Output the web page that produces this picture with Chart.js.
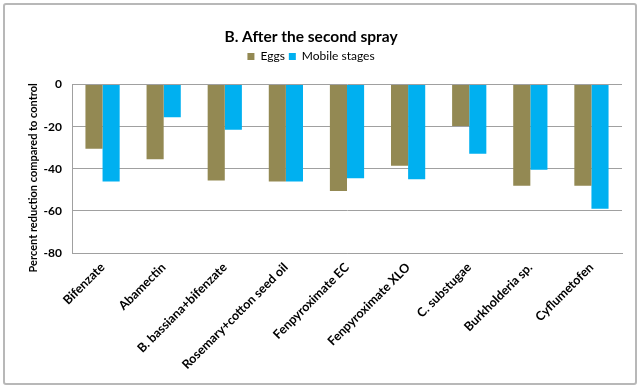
<!DOCTYPE html>
<html>
<head>
<meta charset="utf-8">
<script src="https://cdn.jsdelivr.net/npm/chart.js@4/dist/chart.umd.min.js"></script>
<style>
  html, body { margin: 0; padding: 0; background: #fff; }
  #wrap { position: relative; width: 640px; height: 388px; }
  #frame { position: absolute; left: 3px; top: 3px; width: 634px; height: 382px; box-sizing: border-box;
           border: 2px solid #b8b8b8; border-radius: 3px; pointer-events: none; }
  canvas { position: absolute; left: 0; top: 0; }
</style>
</head>
<body>
<div id="wrap">
  <canvas id="c" width="640" height="388"></canvas>
  <div id="frame"></div>
</div>
<script>
const categories = ["Bifenzate", "Abamectin", "B. bassiana+bifenzate", "Rosemary+cotton seed oil",
  "Fenpyroximate EC", "Fenpyroximate XLO", "C. substugae", "Burkholderia sp.", "Cyflumetofen"];
const eggs = [-30.5, -35.5, -45.5, -46, -50.5, -38.5, -19.7, -48, -48];
const mobileStages = [-46, -15.5, -21.5, -46, -44.5, -45, -32.8, -40.5, -59];
const yTicks = [0, -20, -40, -60, -80];
const titleText = "B. After the second spray";
const yTitle = "Percent reduction compared to control";

const FONT = "Lato, 'Open Sans', sans-serif";

const yTitlePlugin = {
  id: 'yTitlePlugin',
  afterDraw(chart) {
    const ctx = chart.ctx;
    const area = chart.chartArea;
    ctx.save();
    ctx.translate(33, (area.top + area.bottom) / 2 + 9);
    ctx.rotate(-Math.PI / 2);
    ctx.font = "bold 11px " + FONT;
    ctx.fillStyle = "#000";
    ctx.textAlign = "center";
    ctx.textBaseline = "middle";
    ctx.fillText(yTitle, 0, 0);
    ctx.restore();
  }
};

new Chart(document.getElementById('c'), {
  type: 'bar',
  data: {
    labels: categories,
    datasets: [
      { label: "Eggs", data: eggs, backgroundColor: "#938953", borderWidth: 0 },
      { label: "Mobile stages", data: mobileStages, backgroundColor: "#00B0F0", borderWidth: 0 }
    ]
  },
  plugins: [yTitlePlugin],
  options: {
    responsive: false,
    animation: false,
    devicePixelRatio: 1,
    layout: { padding: { left: 0, right: 18, top: 20, bottom: 0 } },
    datasets: { bar: { barPercentage: 1.0, categoryPercentage: 0.56 } },
    plugins: {
      title: {
        display: true, text: titleText, color: "#000",
        font: { family: FONT, size: 15.5, weight: "bold" },
        padding: { top: 8, bottom: 0 }
      },
      legend: {
        display: true, position: 'top',
        labels: {
          color: "#000", boxWidth: 7, boxHeight: 7, padding: 4,
          font: { family: FONT, size: 12 }
        }
      },
      tooltip: { enabled: false }
    },
    scales: {
      x: {
        position: 'top',
        grid: { display: false, drawTicks: false },
        border: { display: false },
        ticks: { display: false },
        afterFit: (s) => { s.height = 12; }
      },
      x2: {
        type: 'category',
        labels: categories,
        position: 'bottom',
        offset: true,
        grid: { display: false, drawTicks: false },
        border: { display: true, color: "#a0a0a0", width: 1 },
        ticks: {
          color: "#000", maxRotation: 45, minRotation: 45, autoSkip: false, padding: 7,
          font: { family: FONT, size: 12.5, weight: "bold" }
        },
        afterFit: (s) => { s.height = 135; }
      },
      y: {
        min: -80, max: 0,
        afterBuildTicks: (axis) => { axis.ticks = yTicks.map(v => ({ value: v })); },
        grid: { color: "#a0a0a0", drawTicks: false, lineWidth: 1 },
        border: { display: true, color: "#a0a0a0" },
        ticks: {
          color: "#000", padding: 10,
          font: { family: FONT, size: 12, weight: "bold" }
        },
        afterFit: (s) => { s.width = 72; }
      }
    }
  }
});
</script>
</body>
</html>
